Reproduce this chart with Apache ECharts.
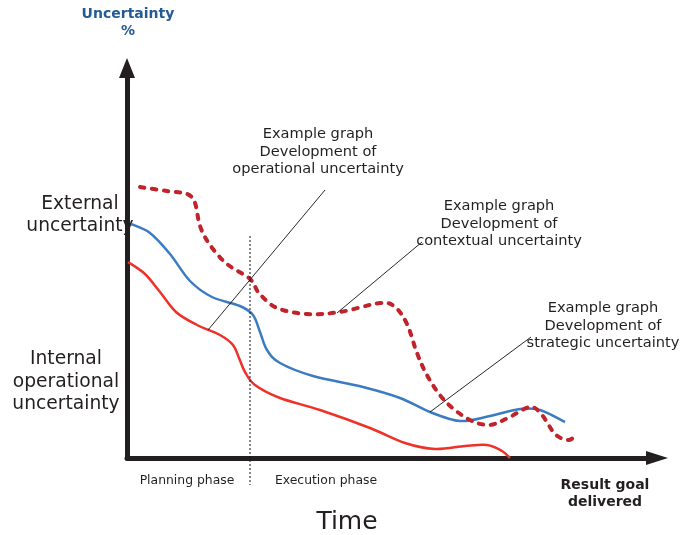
<!DOCTYPE html>
<html>
<head>
<meta charset="utf-8">
<script src="https://cdn.jsdelivr.net/npm/echarts@6/dist/echarts.min.js"></script>
<style>
  html, body { margin: 0; padding: 0; background: #fff; }
  #main { width: 680px; height: 535px; }
</style>
</head>
<body>
<div id="main"></div>
<script>
// values, arbitrary units (time -> x, uncertainty -> y)
const contextual = [[13,271],[40,267],[60,264],[68,255],[73,232],[83,213],[100,194],[123,179],[132,165],[150,150],[180,144],[213,146],[253,155],[268,151],[280,134],[290,105],[301,81],[318,57],[341,39],[362,33],[381,40],[403,51],[415,43],[428,24],[441,18],[448,22]]
const operational = [[4,234],[23,225],[43,204],[63,177],[85,161],[113,152],[126,143],[133,126],[140,108],[153,95],[186,82],[236,71],[273,60],[303,46],[333,37],[363,42],[393,49],[413,48],[438,36]]
const strategic = [[1,196],[18,184],[33,166],[49,146],[70,133],[93,123],[106,113],[112,100],[118,86],[128,73],[153,60],[193,48],[243,30],[278,15],[308,9],[338,12],[360,13],[375,7],[383,0]]

// leader lines from the notes to the curves
const leaderOperational = [[198,268],[81,128]]
const leaderContextual = [[295,216],[210,145]]
const leaderStrategic = [[404,121],[303,46]]
const phaseDivider = [[123,222],[123,-27]]

const xMax = 530
const yMax = 390

const chart = echarts.init(document.getElementById('main'), null, { renderer: 'canvas' })

const ink = '#231f20'
const font = 'DejaVu Sans'

function txt(x, y, text, size, opts) {
  opts = opts || {}
  return {
    type: 'text',
    x: x,
    y: y,
    silent: true,
    style: {
      text: text,
      fill: opts.color || ink,
      font: (opts.bold ? 'bold ' : '') + size + 'px "' + font + '"',
      lineHeight: opts.lh || Math.round(size * 1.25),
      textAlign: 'center',
      textVerticalAlign: 'middle'
    }
  }
}

function leader(data, dotted) {
  return {
    type: 'line',
    data: data,
    showSymbol: false,
    symbol: 'none',
    clip: false,
    silent: true,
    z: 5,
    lineStyle: {
      color: '#111',
      width: dotted ? 1 : 0.9,
      type: dotted ? [2, 2] : 'solid'
    }
  }
}

// smooth curve through the points (catmull-rom), placed with the axes' scales
function curve(points, color, width, z, dash) {
  return {
    type: 'custom',
    data: [points[0]],
    clip: false,
    silent: true,
    z: z,
    renderItem: function (params, api) {
      const p = points.map(function (d) { return api.coord(d) })
      let d = 'M' + p[0][0] + ',' + p[0][1]
      for (let i = 0; i < p.length - 1; i++) {
        const p0 = p[i - 1] || p[i]
        const p1 = p[i]
        const p2 = p[i + 1]
        const p3 = p[i + 2] || p2
        const c1x = p1[0] + (p2[0] - p0[0]) / 6
        const c1y = p1[1] + (p2[1] - p0[1]) / 6
        const c2x = p2[0] - (p3[0] - p1[0]) / 6
        const c2y = p2[1] - (p3[1] - p1[1]) / 6
        d += ' C' + c1x + ',' + c1y + ' ' + c2x + ',' + c2y + ' ' + p2[0] + ',' + p2[1]
      }
      return {
        type: 'path',
        shape: { pathData: d },
        style: {
          fill: null,
          stroke: color,
          lineWidth: width,
          lineDash: dash || null,
          lineCap: dash ? 'round' : 'butt'
        }
      }
    }
  }
}

const option = {
  animation: false,
  grid: { left: 127, right: 680 - 657, top: 68, bottom: 535 - 458 },
  xAxis: {
    type: 'value', min: 0, max: xMax,
    axisLine: { show: true, onZero: false, symbol: ['none', 'triangle'], symbolSize: [14, 22], lineStyle: { color: ink, width: 5 } },
    axisTick: { show: false }, axisLabel: { show: false }, splitLine: { show: false }
  },
  yAxis: {
    type: 'value', min: 0, max: yMax,
    axisLine: { show: true, onZero: false, symbol: ['none', 'triangle'], symbolSize: [16, 20], lineStyle: { color: ink, width: 5 } },
    axisTick: { show: false }, axisLabel: { show: false }, splitLine: { show: false }
  },
  series: [
    curve(strategic, '#ee3129', 2.5, 2),
    curve(operational, '#3b7bc3', 2.5, 2),
    curve(contextual, '#c0232b', 4, 3, [4.5, 7.5]),
    leader(leaderOperational),
    leader(leaderContextual),
    leader(leaderStrategic),
    leader(phaseDivider, true)
  ],
  graphic: [
    txt(128, 23, 'Uncertainty\n%', 14, { bold: true, color: '#235b96', lh: 17 }),
    txt(80, 215, 'External\nuncertainty', 18.7, { lh: 22 }),
    txt(66, 382, 'Internal\noperational\nuncertainty', 18.7, { lh: 22.5 }),
    txt(318, 152, 'Example graph\nDevelopment of\noperational uncertainty', 14.6, { lh: 17.5 }),
    txt(499, 224, 'Example graph\nDevelopment of\ncontextual uncertainty', 14.6, { lh: 17.5 }),
    txt(603, 326, 'Example graph\nDevelopment of\nstrategic uncertainty', 14.6, { lh: 17.5 }),
    txt(187, 481, 'Planning phase', 12.4),
    txt(326, 481, 'Execution phase', 12.4),
    txt(605, 494, 'Result goal\ndelivered', 14, { bold: true, lh: 17 }),
    txt(347, 522, 'Time', 25)
  ]
}

chart.setOption(option)
</script>
</body>
</html>
